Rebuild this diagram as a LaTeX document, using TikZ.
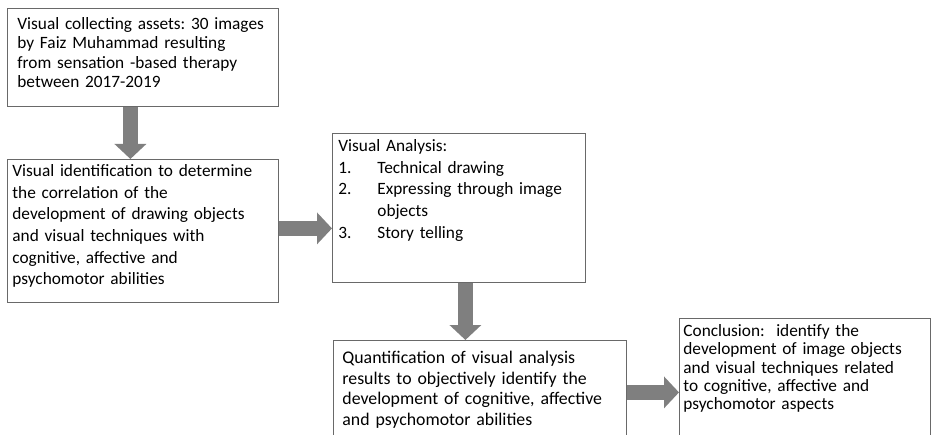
\documentclass[tikz,border=0pt]{standalone}
\usepackage{fontspec}
\setmainfont{Carlito}
\usetikzlibrary{arrows.meta}
\definecolor{framegray}{RGB}{105,105,105}
\definecolor{arrowgray}{RGB}{127,127,127}
\frenchspacing

\begin{document}
\begin{tikzpicture}[x=1pt, y=-1pt,
	box/.style={draw=framegray, line width=0.8pt, anchor=north west, align=left, inner ysep=0pt},
	flow/.style={draw=arrowgray, line width=15pt, -{Triangle[length=15pt, width=31pt]}}]
	\useasboundingbox (0,0) rectangle (933,435);
	\clip (0,0) rectangle (933,435);
	% boxes of the flow
	\node[box, inner xsep=10pt, text width=251pt, text height=21.1pt, text depth=76.9pt,
		font=\fontsize{17.3}{19.4}\selectfont] (collect) at (7,8)
		{Visual collecting assets: 30 images\\ by Faiz Muhammad resulting\\ from sensation -based therapy\\ between 2017-2019};
	\node[box, inner xsep=5pt, text width=261pt, text height=17.1pt, text depth=125.9pt,
		font=\fontsize{17.3}{21.7}\selectfont] (ident) at (7,159)
		{Visual identification to determine\\ the correlation of the\\ development of drawing objects\\ and visual techniques with\\ cognitive, affective and\\ psychomotor abilities};
	\node[box, inner xsep=6pt, text width=241pt, text height=18.1pt, text depth=130.9pt,
		font=\fontsize{17.3}{21.7}\selectfont] (analysis) at (332,133)
		{Visual Analysis:\\
		\makebox[39pt][l]{1.}Technical drawing\\
		\makebox[39pt][l]{2.}Expressing through image\\
		\hspace*{39pt}objects\\
		\makebox[39pt][l]{3.}Story telling};
	\node[box, inner xsep=9pt, text width=275pt, text height=23pt, text depth=81pt,
		font=\fontsize{17.8}{20.7}\selectfont] (quant) at (333,340)
		{Quantification of visual analysis\\ results to objectively identify the\\ development of cognitive, affective\\ and psychomotor abilities};
	\node[box, inner xsep=4pt, text width=243pt, text height=18.1pt, text depth=111.9pt,
		font=\fontsize{17.3}{18.3}\selectfont] (concl) at (679,318)
		{Conclusion:\ \ identify the\\ development of image objects\\ and visual techniques related\\ to cognitive, affective and\\ psychomotor aspects};
	% block arrows
	\draw[flow] ([xshift=-12.5pt]collect.south) -- ([xshift=-12.5pt]ident.north);
	\draw[flow] ([yshift=2.5pt]ident.east) -- ([yshift=2.5pt]ident.east -| analysis.west);
	\draw[flow] ([xshift=6.5pt]analysis.south) -- ([xshift=6.5pt]analysis.south |- quant.north);
	\draw[flow] (quant.east) -- (quant.east -| concl.west);
\end{tikzpicture}
\end{document}
